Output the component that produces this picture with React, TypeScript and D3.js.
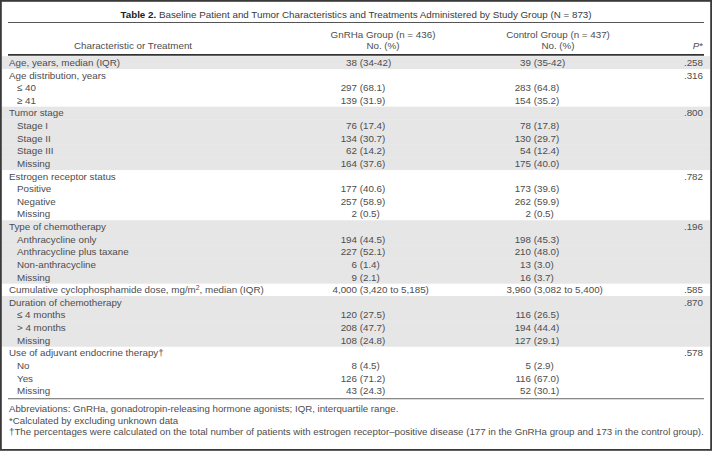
import React from 'react';
import * as d3 from 'd3';

const rowLabels = [
  'Age, years, median (IQR)', 'Age distribution, years', '≤ 40', '≥ 41',
  'Tumor stage', 'Stage I', 'Stage II', 'Stage III', 'Missing',
  'Estrogen receptor status', 'Positive', 'Negative', 'Missing',
  'Type of chemotherapy', 'Anthracycline only', 'Anthracycline plus taxane', 'Non-anthracycline', 'Missing',
  'Cumulative cyclophosphamide dose, mg/m^2, median (IQR)',
  'Duration of chemotherapy', '≤ 4 months', '> 4 months', 'Missing',
  'Use of adjuvant endocrine therapy†', 'No', 'Yes', 'Missing',
];
const rowLevel = [0, 0, 1, 1, 0, 1, 1, 1, 1, 0, 1, 1, 1, 0, 1, 1, 1, 1, 0, 0, 1, 1, 1, 0, 1, 1, 1];

const gnrhaCount = ['38', '', '297', '139', '', '76', '134', '62', '164', '', '177', '257', '2', '', '194', '227', '6', '9', '4,000', '', '120', '208', '108', '', '8', '126', '43'];
const gnrhaPct = ['(34-42)', '', '(68.1)', '(31.9)', '', '(17.4)', '(30.7)', '(14.2)', '(37.6)', '', '(40.6)', '(58.9)', '(0.5)', '', '(44.5)', '(52.1)', '(1.4)', '(2.1)', '(3,420 to 5,185)', '', '(27.5)', '(47.7)', '(24.8)', '', '(4.5)', '(71.2)', '(24.3)'];
const controlCount = ['39', '', '283', '154', '', '78', '130', '54', '175', '', '173', '262', '2', '', '198', '210', '13', '16', '3,960', '', '116', '194', '127', '', '5', '116', '52'];
const controlPct = ['(35-42)', '', '(64.8)', '(35.2)', '', '(17.8)', '(29.7)', '(12.4)', '(40.0)', '', '(39.6)', '(59.9)', '(0.5)', '', '(45.3)', '(48.0)', '(3.0)', '(3.7)', '(3,082 to 5,400)', '', '(26.5)', '(44.4)', '(29.1)', '', '(2.9)', '(67.0)', '(30.1)'];
const pValues = ['.258', '.316', '', '', '.800', '', '', '', '', '.782', '', '', '', '.196', '', '', '', '', '.585', '.870', '', '', '', '.578', '', '', ''];

const footnotes = [
  'Abbreviations: GnRHa, gonadotropin-releasing hormone agonists; IQR, interquartile range.',
  '*Calculated by excluding unknown data',
  '†The percentages were calculated on the total number of patients with estrogen receptor–positive disease (177 in the GnRHa group and 173 in the control group).',
];

const W = 712;
const H = 453;
const font = '"Liberation Sans", Arial, sans-serif';
const fs = 9.8;
const ink = '#4d4d4d';

export default function App() {
  const idx = d3.range(rowLabels.length);
  const top = 56.2;
  const pitch = 12.62;
  const y = d3.scaleBand<number>().domain(idx).range([top, top + idx.length * pitch]);

  // alternate shading per group (a group starts at each top-level row)
  let g = -1;
  const shade = rowLevel.map(l => { if (l === 0) g++; return g % 2 === 0; });

  const gCol = 357;
  const cCol = 531;
  const pCol = 703;

  const label = (s: string) => {
    if (s.includes('^2')) {
      const [a, b] = s.split('^2');
      return (<>{a}<tspan dy={-3.4} fontSize={6.8}>2</tspan><tspan dy={3.4}>{b}</tspan></>);
    }
    return s;
  };

  const bottom = top + idx.length * pitch;

  return (
    <svg width={W} height={H} style={{ position: 'absolute', left: 0, top: 0, background: '#fff' }}
      fontFamily={font} fontSize={fs} fill={ink}>
      {idx.filter(i => shade[i]).map(i => (
        <rect key={'b' + i} x={2} y={y(i)!} width={W - 4} height={y.bandwidth() + 0.3} fill="#e6e6e7" />
      ))}

      <text x={356} y={17.5} textAnchor="middle" fill="#3a3a3a">
        <tspan fontWeight="bold" fill="#222">Table 2.</tspan> Baseline Patient and Tumor Characteristics and Treatments Administered by Study Group (N = 873)
      </text>
      <line x1={8} x2={704} y1={22.5} y2={22.5} stroke="#555" strokeWidth={1} />

      <text x={383} y={38} textAnchor="middle">GnRHa Group (n = 436)</text>
      <text x={383} y={49} textAnchor="middle">No. (%)</text>
      <text x={558} y={38} textAnchor="middle">Control Group (n = 437)</text>
      <text x={558} y={49} textAnchor="middle">No. (%)</text>
      <text x={133} y={49} textAnchor="middle">Characteristic or Treatment</text>
      <text x={pCol} y={49} textAnchor="end"><tspan fontStyle="italic">P</tspan>*</text>
      <line x1={8} x2={704} y1={54.9} y2={54.9} stroke="#333" strokeWidth={1.8} />

      {idx.map(i => {
        const base = y(i)! + y.bandwidth() / 2 + 3.5;
        return (
          <g key={i}>
            <text x={rowLevel[i] ? 17 : 9} y={base}>{label(rowLabels[i])}</text>
            {gnrhaCount[i] && <text x={gCol} y={base} textAnchor="end">{gnrhaCount[i]}</text>}
            {gnrhaPct[i] && <text x={gCol + 2.7} y={base}>{gnrhaPct[i]}</text>}
            {controlCount[i] && <text x={cCol} y={base} textAnchor="end">{controlCount[i]}</text>}
            {controlPct[i] && <text x={cCol + 2.7} y={base}>{controlPct[i]}</text>}
            {pValues[i] && <text x={pCol} y={base} textAnchor="end">{pValues[i]}</text>}
          </g>
        );
      })}

      <line x1={8} x2={704} y1={bottom + 1.8} y2={bottom + 1.8} stroke="#666" strokeWidth={1} />
      {footnotes.map((f, i) => (
        <text key={'f' + i} x={9} y={412 + i * 11.6} fontSize={9.7}>{f}</text>
      ))}

      <rect x={0.9} y={0.9} width={W - 1.8} height={449} fill="none" stroke="#3a3a3a" strokeWidth={1.8} />
    </svg>
  );
}
